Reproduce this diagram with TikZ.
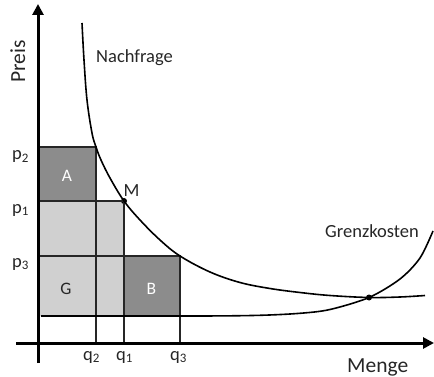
\documentclass[tikz,border=0pt]{standalone}
\usepackage{fontspec}
\setmainfont{Carlito}
\usetikzlibrary{arrows.meta}
\definecolor{darkbox}{HTML}{8C8C8C}
\definecolor{lightbox}{HTML}{D0D0D0}
\definecolor{ink}{HTML}{262626}
\tikzset{
  axisline/.style={line width=3pt, black, -{Triangle[length=11pt,width=11pt]}},
  gridline/.style={line width=1.4pt, ink},
  curveline/.style={line width=1.6pt, black},
  bigtext/.style={font=\fontsize{21.5}{24}\selectfont, text=ink, inner sep=0pt},
  midtext/.style={font=\fontsize{18.5}{21}\selectfont, text=ink, inner sep=0pt},
  boxtext/.style={font=\fontsize{17.5}{20}\selectfont, inner sep=0pt},
  dotmark/.style={circle, fill=black, inner sep=0pt, minimum size=6pt},
}
\begin{document}
\begin{tikzpicture}[x=1pt,y=-1pt]
\useasboundingbox (0,0) rectangle (434,377);
% fills
\fill[darkbox] (38,147) rectangle (96,201);
\fill[lightbox] (38,201) rectangle (124,316);
\fill[darkbox] (124,256) rectangle (180,316);
% coordinates
\coordinate (p2l) at (38,147);
\coordinate (p2r) at (96,147);
\coordinate (q2b) at (96,343);
\coordinate (p1l) at (38,201);
\coordinate (q1b) at (124,343);
\coordinate (p3l) at (38,256);
\coordinate (p3r) at (180,256);
\coordinate (q3b) at (180,343);
% grid lines
\draw[gridline] (p2l) -- (p2r) -- (q2b);
\node[dotmark] (M) at (124,201) {};
\draw[gridline] (p1l) -- (M.center) -- (q1b);
\draw[gridline] (p3l) -- (p3r) -- (q3b);
% axes
\coordinate (ybot) at (38,363);
\coordinate (ytop) at (38,4);
\coordinate (xl) at (16,343);
\coordinate (xr) at (434,343);
\draw[axisline] (ybot) -- (ytop);
\draw[axisline] (xl) -- (xr);
% demand curve
\draw[curveline] plot[smooth, tension=0.6] coordinates {(82,23) (84,60) (87,100) (92,133) (96,147) (101,160) (110,178) (124,201) (140,220) (160,240) (180,256) (210,272) (240,282.5) (270,288.5) (300,292.5) (330,295.5) (369,297.5) (400,297) (425,295.5)};
% marginal cost curve
\draw[curveline] plot[smooth, tension=0.5] coordinates {(41,316) (200,316) (260,315.3) (300,313.3) (330,309.5) (369,297.5) (400,279) (420,258) (433,231)};
\node[dotmark] (S) at (369,297.5) {};
% labels
\node[bigtext, rotate=90, anchor=base west] (preis) at (25,83) {Preis};
\node[bigtext, anchor=base west] (menge) at (347,372) {Menge};
\node[midtext, anchor=base west] (nachfrage) at (96,63) {Nachfrage};
\node[midtext, anchor=base west] (grenz) at (325,237) {Grenzkosten};
\node[midtext, anchor=center] (Mlabel) at (131.5,191) {M};
\node[midtext, anchor=base west] (lp2) at (12,160) {p\textsubscript{2}};
\node[midtext, anchor=base west] (lp1) at (12,213) {p\textsubscript{1}};
\node[midtext, anchor=base west] (lp3) at (12,267) {p\textsubscript{3}};
\node[midtext, anchor=base west] (lq2) at (83,360) {q\textsubscript{2}};
\node[midtext, anchor=base west] (lq1) at (116,360) {q\textsubscript{1}};
\node[midtext, anchor=base west] (lq3) at (170,360) {q\textsubscript{3}};
\node[boxtext, text=white] (A) at (67,176) {A};
\node[boxtext, text=ink] (G) at (66,289) {G};
\node[boxtext, text=white] (B) at (151.5,289) {B};
\end{tikzpicture}
\end{document}
